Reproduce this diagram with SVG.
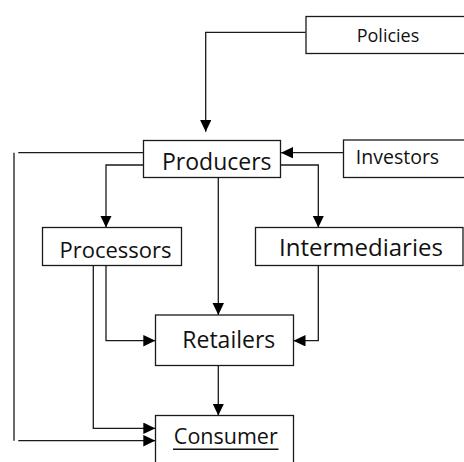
<svg xmlns="http://www.w3.org/2000/svg" width="464" height="462" viewBox="0 0 464 462">
  <style>
    .box { fill: #ffffff; stroke: #1a1a1a; stroke-width: 1.3; }
    .lbl { font-family: "Open Sans", "Noto Sans", sans-serif; fill: #111111; text-anchor: middle; }
    .wire { fill: none; stroke: #1a1a1a; stroke-width: 1.3; }
    .arr { marker-end: url(#head); }
  </style>
  <defs>
    <marker id="head" markerUnits="userSpaceOnUse" markerWidth="12" markerHeight="12" refX="12" refY="5.75" orient="auto">
      <path d="M0,0 L12,5.75 L0,11.5 Z" fill="#000000"/>
    </marker>
  </defs>
  <rect width="464" height="462" fill="#ffffff"/>

  <!-- connectors -->
  <g id="connectors">
    <path class="wire arr" d="M305.5,32.3 H205.7 V131.7"/>
    <path class="wire arr" d="M343.3,152.7 H281"/>
    <path class="wire" d="M143.5,152.7 H18.3"/>
    <path class="wire" d="M14,152.7 V440.7" stroke-width="1.6"/>
    <path class="wire arr" d="M18.3,440.7 H155.3"/>
    <path class="wire arr" d="M143.5,165 H106 V227.5"/>
    <path class="wire arr" d="M280.7,165 H318.3 V227.5"/>
    <path class="wire arr" d="M218.3,177.7 V315"/>
    <path class="wire arr" d="M106,265.7 V340.7 H155.3"/>
    <path class="wire arr" d="M93.3,265.7 V428.3 H155.3"/>
    <path class="wire arr" d="M318.3,265.7 V340.7 H293.5"/>
    <path class="wire arr" d="M218.3,365.7 V415.5"/>
  </g>

  <g id="policies">
    <rect class="box" x="306" y="16.5" width="162" height="37"/>
    <text class="lbl" x="388" y="42" font-size="18">Policies</text>
  </g>
  <g id="producers">
    <rect class="box" x="143.5" y="140.5" width="137" height="37"/>
    <text class="lbl" x="216.8" y="170.3" font-size="23">Producers</text>
  </g>
  <g id="investors">
    <rect class="box" x="343.5" y="140" width="124" height="37.5"/>
    <text class="lbl" x="397.5" y="164.3" font-size="19.5">Investors</text>
  </g>
  <g id="processors">
    <rect class="box" x="42.5" y="227.5" width="139" height="38"/>
    <text class="lbl" x="115.5" y="258.3" font-size="22">Processors</text>
  </g>
  <g id="intermediaries">
    <rect class="box" x="255.5" y="227.5" width="207.5" height="38"/>
    <text class="lbl" x="361" y="255.7" font-size="24">Intermediaries</text>
  </g>
  <g id="retailers">
    <rect class="box" x="155.5" y="315" width="138" height="50.5"/>
    <text class="lbl" x="228.8" y="347.7" font-size="23">Retailers</text>
  </g>
  <g id="consumer">
    <rect class="box" x="155.5" y="415.5" width="138" height="60"/>
    <text class="lbl" x="225.8" y="444.3" font-size="21.5">Consumer</text>
    <line x1="173" y1="449.2" x2="278.5" y2="449.2" stroke="#111111" stroke-width="1.5"/>
  </g>
</svg>
